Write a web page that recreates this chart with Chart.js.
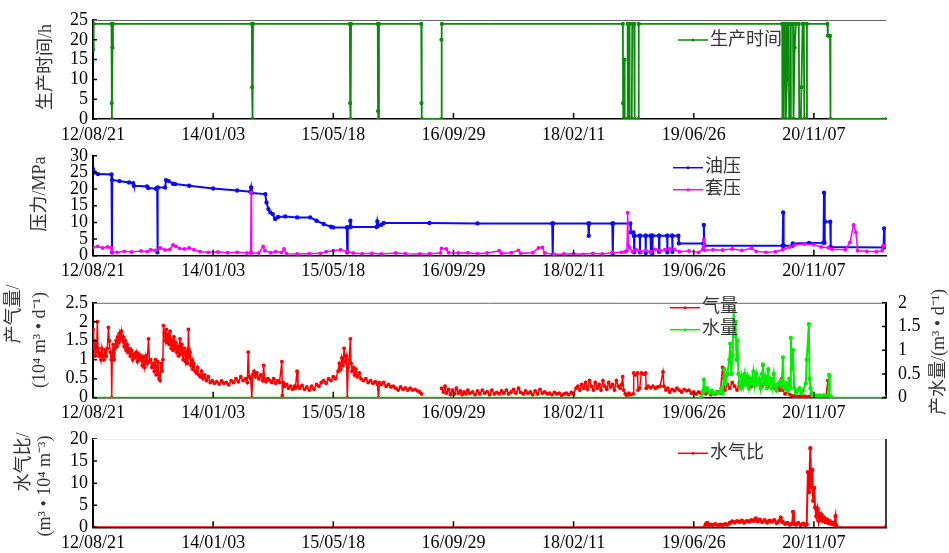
<!DOCTYPE html>
<html>
<head>
<meta charset="utf-8">
<script src="https://cdn.jsdelivr.net/npm/chart.js@4.4.0/dist/chart.umd.min.js"></script>
<style>
  html, body { margin: 0; padding: 0; background: #fff; }
  #wrap { position: relative; width: 949px; height: 553px; overflow: hidden; }
  #wrap canvas { position: absolute; left: 0; }
</style>
</head>
<body>
<div id="wrap">
  <canvas id="hours" width="949" height="150" style="top:0"></canvas>
  <canvas id="pressure" width="949" height="150" style="top:140px"></canvas>
  <canvas id="rates" width="949" height="150" style="top:280px"></canvas>
  <canvas id="ratio" width="949" height="133" style="top:420px"></canvas>
</div>
<script>
// x values are days counted from 2012-08-21
const tickDays = [0, 500, 1000, 1500, 2000, 2500, 3000];
const tickLabels = ['12/08/21', '14/01/03', '15/05/18', '16/09/29', '18/02/11', '19/06/26', '20/11/07'];

const prodHours = [
  [0,17.5],[3,24],[77,24],[78,4],[79,0],[81,18],[83,24],
  [661,24],[662,8],[664,0],[666,24],
  [1069,24],[1070,4],[1072,0],[1074,24],
  [1185,24],[1186,2],[1188,0],[1190,24],
  [1366,24],[1367,4],[1369,0],[1449,0],[1450,20],[1452,24],
  [2205,24],[2206,4],[2207,0],[2211,0],[2212,15],[2213,0],[2223,0],[2225,24],[2231,24],[2233,0],
  [2242,0],[2244,24],[2252,24],[2254,0],[2269,0],[2271,24],
  [2868,24],[2869,0],[2874,0],[2876,24],[2881,24],[2883,0],[2888,10],[2890,24],[2895,24],[2897,0],
  [2902,0],[2904,24],[2913,24],[2915,0],[2920,18],[2925,24],[2937,24],[2939,0],[2946,0],[2948,8],
  [2953,24],[2958,24],[2960,0],[2969,0],[2971,24],
  [3056,24],[3058,21],[3067,21],[3069,0],[3300,0]
];

const oilPressure = [
  [0,26],[8,25],[21,24.5],[77,24.4],[79,1],[80,22.7],[110,22.4],[150,22],[167,21.8],[170,21],
  [225,20.8],[230,20.3],[262,20.1],[267,20.2],[268,1],[270,20.5],[300,20.5],[304,22.7],[315,22.4],
  [333,21.6],[342,21.5],[400,21],[500,20.2],[600,19.6],[655,19.2],[658,20.5],[661,18.8],[717,18.5],
  [722,16],[730,14],[738,13],[748,12.5],[758,11],[770,11.6],[800,11.8],[850,11.5],[904,11.5],
  [930,10.5],[960,9.5],[990,8.7],[1000,8.5],[1056,8.5],[1058,1],[1060,8.5],[1069,8.6],[1071,10.5],
  [1073,8.6],[1180,8.6],[1183,10.3],[1186,9],[1200,9.3],[1210,9.8],[1400,9.8],[1600,9.7],[1911,9.7],
  [1913,0.2],[1915,9.7],[2061,9.7],[2063,6],[2065,9.7],[2161,9.7],[2163,0.3],[2165,9.7],[2236,9.7],
  [2238,7],[2249,7],[2251,6],[2252,1],[2253,6],[2275,6],[2276,1],[2277,6],[2299,6],[2300,0.8],
  [2301,6],[2320,6],[2321,1],[2322,6],[2327,6],[2328,0.8],[2329,6],[2355,6],[2356,1.2],[2357,6],
  [2389,6],[2390,1],[2391,6],[2410,6],[2411,1.2],[2412,6],[2436,6],[2438,3.7],[2540,3.7],[2542,9.2],
  [2544,3.0],[2870,3.0],[2872,13],[2874,3.0],[2910,3.0],[2912,3.7],[2980,3.8],[3040,3.9],[3042,18.9],
  [3044,3.9],[3046,10.2],[3068,10.2],[3070,2.6],[3290,2.5],[3292,8.2],[3294,2.6]
];

const casingPressure = [
  [0,2.5],[20,2.8],[40,2.3],[60,2.6],[75,2.4],[79,1.2],[100,1.0],[130,1.3],[160,1.1],[200,1.4],
  [225,1.2],[240,1.8],[260,1.6],[280,2.3],[300,1.7],[320,1.9],[333,3.2],[345,2.8],[360,2.2],[380,2.0],
  [400,2.3],[420,1.8],[446,1.2],[480,1.0],[520,1.1],[560,0.9],[600,1.0],[640,0.8],[656,0.9],[658,19],
  [660,0.8],[690,0.8],[708,2.8],[715,1.5],[740,0.9],[760,1.2],[785,1.0],[795,2.0],[805,0.6],[850,0.5],
  [900,0.6],[946,0.7],[970,1.2],[1000,1.5],[1030,1.8],[1060,1.2],[1083,0.8],[1120,0.6],[1160,0.7],
  [1200,0.5],[1260,0.8],[1300,0.6],[1360,0.5],[1400,0.6],[1446,0.8],[1450,2.2],[1470,2.0],[1480,0.9],
  [1520,0.8],[1560,0.9],[1600,0.6],[1640,0.8],[1690,1.5],[1700,0.7],[1740,0.9],[1770,1.6],[1780,0.7],
  [1830,0.9],[1854,2.3],[1870,2.5],[1880,0.8],[1920,0.4],[1960,0.5],[2000,0.6],[2040,0.4],[2080,0.7],
  [2120,0.5],[2160,0.9],[2200,1.0],[2215,1.2],[2222,1.5],[2225,12.9],[2228,3],[2233,2.5],[2245,1.2],
  [2260,1.8],[2280,1.2],[2300,1.6],[2320,1.1],[2340,1.9],[2360,1.4],[2380,1.8],[2400,2.0],[2420,1.9],
  [2440,1.2],[2480,1.4],[2520,1.0],[2538,2],[2542,4.8],[2546,1.6],[2580,1.8],[2620,1.7],[2660,2.0],
  [2700,1.6],[2740,2.2],[2760,1.3],[2800,1.0],[2840,1.2],[2870,1.8],[2900,2.6],[2920,3.2],[2960,3.5],
  [3000,3.3],[3030,2.6],[3060,2.4],[3075,1.9],[3130,1.8],[3150,4],[3165,9.2],[3175,7],[3182,1.5],
  [3220,1.3],[3260,1.2],[3284,1.5],[3288,3],[3296,3]
];

// gas rate, 10^4 m3/d (null = no record)
const gasRate = [
  [0,1.8],[3,1.3],[6,1.5],[9,1.1],[12,1.4],[15,1.2],[18,2.0],[21,1.3],[25,1.1],[29,1.2],[33,1.0],
  [37,1.3],[41,1.1],[45,1.0],[50,1.25],[55,1.1],[60,1.3],[64,1.85],[68,1.5],[72,1.2],[76,1.0],[78,0],
  [80,1.1],[84,1.4],[88,1.0],[92,1.3],[96,1.5],[99,1.35],[103,1.6],[107,1.45],[111,1.7],[115,1.55],
  [119,1.75],[123,1.5],[126,1.6],[130,1.35],[134,1.5],[138,1.25],[142,1.4],[146,1.2],[150,1.3],
  [155,1.1],[160,1.25],[165,1.0],[170,1.15],[175,1.05],[180,1.2],[185,0.95],[190,1.15],[195,1.0],
  [200,1.1],[205,0.85],[210,1.05],[215,0.8],[220,1.1],[225,0.9],[231,1.55],[235,0.95],[240,1.0],
  [245,0.8],[251,0.9],[255,0.7],[260,1.0],[265,0.6],[270,0.95],[275,0.5],[279,0.45],[283,0.9],
  [287,0.7],[291,1.0],[293,1.9],[297,1.7],[301,1.5],[305,1.8],[309,1.45],[313,1.65],[317,1.4],
  [321,1.75],[325,1.3],[329,1.5],[333,1.25],[337,1.6],[341,1.3],[345,1.45],[349,1.2],[353,1.35],
  [357,1.1],[362,1.55],[366,1.15],[370,1.4],[375,1.0],[380,1.3],[385,0.95],[390,1.2],[394,0.9],
  [397,1.8],[401,1.1],[404,1.2],[408,0.85],[412,1.0],[416,0.75],[420,0.9],[425,0.7],[430,0.65],
  [435,0.8],[440,0.6],[446,0.55],[452,0.7],[458,0.5],[465,0.6],[472,0.45],[480,0.55],[488,0.4],
  [496,0.45],[505,0.38],[515,0.42],[525,0.36],[535,0.44],[545,0.38],[555,0.4],[565,0.34],[575,0.45],
  [585,0.4],[595,0.5],[605,0.42],[615,0.55],[625,0.45],[635,0.5],[642,0.4],[646,1.2],[650,0.55],
  [656,0.5],[661,0],[664,0.6],[670,0.7],[676,0.55],[682,0.65],[690,0.5],[698,0.6],[706,0.45],
  [710,0.85],[714,0.5],[720,0.42],[728,0.5],[736,0.45],[744,0.4],[752,0.5],[760,0.38],[768,0.45],
  [776,0.4],[786,0.95],[788,0.05],[792,0.4],[798,0.3],[806,0.35],[814,0.25],[822,0.3],[830,0.22],
  [838,0.3],[842,0.25],[849,0.7],[853,0.3],[860,0.25],[870,0.32],[880,0.22],[890,0.28],[900,0.2],
  [910,0.3],[920,0.22],[930,0.35],[940,0.3],[950,0.4],[960,0.45],[970,0.38],[980,0.5],[990,0.45],
  [1000,0.55],[1010,0.5],[1020,0.7],[1025,0.9],[1030,0.75],[1035,1.05],[1040,0.85],[1045,1.3],
  [1050,0.95],[1055,1.1],[1058,0],[1062,0.8],[1066,1.0],[1071,1.55],[1074,0.9],[1078,0.7],[1083,0.8],
  [1088,0.6],[1094,0.75],[1100,0.55],[1108,0.65],[1115,0.5],[1125,0.45],[1135,0.5],[1145,0.4],
  [1155,0.45],[1165,0.38],[1175,0.42],[1183,0.36],[1188,0],[1192,0.4],[1200,0.35],[1210,0.4],
  [1220,0.3],[1230,0.35],[1240,0.28],[1250,0.3],[1260,0.25],[1270,0.2],[1280,0.28],[1290,0.22],
  [1300,0.26],[1310,0.2],[1320,0.25],[1330,0.2],[1340,0.22],[1350,0.18],[1360,0.15],[1367,0.1],
  [1410,null],
  [1451,0.25],[1458,0.15],[1465,0.3],[1472,0.12],[1480,0.22],[1488,0.08],[1496,0.2],[1504,0.1],
  [1512,0.25],[1520,0.12],[1528,0.18],[1536,0.08],[1544,0.15],[1552,0.1],[1560,0.2],[1568,0.12],
  [1580,0.15],[1590,0.08],[1600,0.18],[1610,0.1],[1620,0.2],[1630,0.12],[1640,0.16],[1650,0.08],
  [1660,0.2],[1670,0.1],[1680,0.14],[1690,0.1],[1700,0.18],[1710,0.12],[1720,0.2],[1730,0.1],
  [1740,0.15],[1750,0.22],[1760,0.12],[1771,0.25],[1780,0.14],[1790,0.1],[1800,0.18],[1810,0.12],
  [1820,0.15],[1830,0.08],[1840,0.18],[1850,0.1],[1860,0.22],[1870,0.12],[1880,0.15],[1890,0.1],
  [1900,0.12],[1910,0.08],[1920,0.14],[1930,0.1],[1940,0.12],[1950,0.06],[1960,0.1],[1970,0.12],
  [1980,0.08],[1990,0.14],[2000,0.1],[2010,0.25],[2018,0.3],[2026,0.2],[2034,0.35],[2042,0.25],
  [2050,0.4],[2058,0.22],[2066,0.45],[2074,0.3],[2082,0.2],[2090,0.4],[2098,0.25],[2106,0.35],
  [2114,0.2],[2122,0.45],[2130,0.3],[2138,0.22],[2146,0.4],[2154,0.28],[2162,0.35],[2170,0.2],
  [2178,0.45],[2186,0.3],[2194,0.25],[2200,0.35],[2204,0.55],[2208,0.2],[2215,0.1],[2222,0.05],
  [2230,0.12],[2236,0.08],[2248,0.1],[2250,0.65],[2258,0.6],[2266,0.65],[2268,0.2],[2275,0.25],
  [2282,0.65],[2292,0.62],[2300,0.65],[2302,0.25],[2310,0.3],[2320,0.26],[2330,0.3],[2340,0.25],
  [2350,0.28],[2360,0.3],[2372,0.68],[2376,0.3],[2384,0.2],[2392,0.25],[2400,0.15],[2410,0.22],
  [2420,0.18],[2430,0.25],[2440,0.2],[2450,0.15],[2460,0.22],[2470,0.18],[2480,0.2],[2490,0.12],
  [2500,0.15],[2510,0.1],[2520,0.15],[2530,0.12],[2540,0.2],[2550,0.1],[2560,0.15],[2570,0.08],
  [2580,0.12],[2590,0.1],[2600,0.15],[2610,0.12],[2620,0.8],[2625,0.5],[2630,0.2],[2640,0.35],
  [2650,0.25],[2660,0.4],[2670,0.3],[2680,0.2],[2690,0.4],[2700,0.3],[2710,0.45],[2720,0.35],
  [2730,0.5],[2740,0.3],[2750,0.45],[2760,0.35],[2770,0.4],[2780,0.3],[2788,0.85],[2792,0.35],
  [2800,0.45],[2810,0.3],[2820,0.4],[2830,0.35],[2840,0.25],[2850,0.3],[2858,0.2],[2866,0.5],
  [2870,0.2],[2880,0.1],[2890,0.15],[2900,0.08],[2910,0.05],[2920,0.03],[2930,0.02],[2940,0.03],
  [2950,0.02],[2960,0.04],[2970,0.02],[2980,0.03],[2990,0.02],[3000,0.03],[3010,0.02],[3020,0.03],
  [3030,0.02],[3040,0.03],[3050,0.02],[3058,0.45],[3062,0.02],[3070,0],[3300,0]
];

// water rate, m3/d
const waterRate = [
  [0,0],[2530,0],[2538,0.1],[2542,0.38],[2546,0.15],[2555,0.2],[2565,0.1],[2575,0.15],[2585,0.08],
  [2595,0.12],[2605,0.1],[2615,0.2],[2620,0.1],[2628,0.6],[2633,0.3],[2640,0.5],[2648,0.8],
  [2652,1.14],[2656,0.5],[2662,0.9],[2666,1.85],[2670,1.3],[2674,1.6],[2678,0.8],[2682,1.2],
  [2686,0.5],[2690,0.3],[2696,0.2],[2700,0.45],[2706,0.25],[2712,0.5],[2718,0.3],[2724,0.45],
  [2730,0.2],[2736,0.4],[2742,0.3],[2748,0.55],[2754,0.25],[2760,0.5],[2766,0.3],[2772,0.4],
  [2778,0.2],[2784,0.5],[2788,0.7],[2792,0.3],[2798,0.45],[2804,0.2],[2810,0.6],[2814,0.3],
  [2820,0.4],[2826,0.2],[2833,0.5],[2838,0.25],[2845,0.15],[2852,0.3],[2860,0.35],[2866,0.25],
  [2871,0.85],[2874,0.3],[2880,0.2],[2886,0.3],[2892,0.15],[2898,0.4],[2901,0.2],[2904,1.26],
  [2908,0.6],[2913,1.0],[2918,0.2],[2925,0.1],[2932,0.15],[2940,0.2],[2948,0.1],[2954,0.15],
  [2966,0.3],[2970,0.8],[2979,1.55],[2982,0.4],[2986,0.2],[2990,0.1],[2995,0.05],[3005,0.05],
  [3015,0.04],[3025,0.05],[3040,0.05],[3060,0.04],[3063,0.48],[3066,0.05],[3075,0],[3300,0]
];

// water-gas ratio, m3/10^4 m3
const wgRatio = [
  [0,0],[2545,0],[2550,0.7],[2556,1.0],[2562,0.5],[2570,0.6],[2580,0.5],[2590,0.7],[2600,0.5],
  [2610,0.6],[2620,0.55],[2630,0.7],[2640,0.6],[2650,1.0],[2660,1.3],[2670,1.1],[2680,1.4],
  [2690,1.2],[2700,1.5],[2710,1.1],[2720,1.4],[2730,1.3],[2740,1.6],[2750,1.5],[2758,2.0],
  [2766,1.4],[2775,1.7],[2785,1.2],[2795,1.6],[2805,1.1],[2815,1.5],[2825,1.3],[2835,1.6],
  [2845,1.0],[2855,1.4],[2862,2.2],[2870,1.2],[2880,0.8],[2890,1.0],[2900,0.6],[2910,0.9],
  [2913,3.5],[2917,0.8],[2925,0.6],[2935,1.0],[2945,0.5],[2955,0.8],[2965,0.5],[2970,0.7],
  [2975,12.5],[2980,8],[2985,17.9],[2989,9],[2993,13],[2997,6],[3001,8.9],[3005,4.5],[3010,2.5],
  [3015,4.2],[3020,1.5],[3024,3],[3028,2],[3032,2.8],[3036,1.5],[3042,2.2],[3048,1.2],[3054,1.8],
  [3060,1.0],[3066,1.4],[3072,0.8],[3078,1.0],[3084,0.6],[3090,2.5],[3092,0.5],[3094,0],[3300,0]
];

Chart.defaults.font.family = "'Liberation Serif', 'Noto Sans CJK SC', serif";
Chart.defaults.font.size = 18;
Chart.defaults.color = '#000';
Chart.defaults.animation = false;

const cjkFont = "18px 'Liberation Serif', 'Noto Sans CJK SC', serif";

// axis frame extras: inward ticks, extra border lines, rotated titles, legend
const decor = {
  id: 'decor',
  afterDraw(chart, args, o) {
    const { ctx, chartArea: a, scales } = chart;
    ctx.save();
    ctx.strokeStyle = '#000';
    ctx.lineWidth = 1.5;
    ctx.beginPath();
    tickDays.forEach(v => {
      const px = scales.x.getPixelForValue(v);
      ctx.moveTo(px, a.bottom);
      ctx.lineTo(px, a.bottom - 6);
    });
    Object.values(scales).forEach(s => {
      if (s.axis !== 'y') return;
      const left = s.position === 'left';
      const edge = left ? a.left : a.right;
      s.ticks.forEach(t => {
        const py = s.getPixelForValue(t.value);
        ctx.moveTo(edge, py);
        ctx.lineTo(edge + (left ? 4 : -4), py);
      });
    });
    ctx.stroke();

    if (o.topLine) {
      ctx.strokeStyle = o.topLine;
      ctx.lineWidth = 1;
      ctx.beginPath();
      ctx.moveTo(a.left, a.top + 0.5);
      ctx.lineTo(a.right, a.top + 0.5);
      ctx.stroke();
    }
    if (o.rightLine) {
      ctx.strokeStyle = '#000';
      ctx.lineWidth = 1.5;
      ctx.beginPath();
      ctx.moveTo(a.right, a.top);
      ctx.lineTo(a.right, a.bottom);
      ctx.stroke();
    }

    ctx.font = cjkFont;
    ctx.fillStyle = '#333';
    ctx.textAlign = 'center';
    ctx.textBaseline = 'middle';
    (o.titles || []).forEach(t => {
      ctx.save();
      ctx.translate(t.x, t.y);
      ctx.rotate(-Math.PI / 2);
      ctx.fillText(t.text, 0, 0);
      ctx.restore();
    });

    const lg = o.legend;
    if (lg) {
      ctx.textAlign = 'left';
      chart.data.datasets.forEach((d, i) => {
        const y = lg.y + i * 22;
        ctx.strokeStyle = d.borderColor;
        ctx.lineWidth = 1.5;
        ctx.beginPath();
        ctx.moveTo(lg.x, y);
        ctx.lineTo(lg.x + 30, y);
        ctx.stroke();
        ctx.fillStyle = d.borderColor;
        ctx.beginPath();
        ctx.arc(lg.x + 15, y, 1.5, 0, Math.PI * 2);
        ctx.fill();
        ctx.fillStyle = '#333';
        ctx.fillText(d.label, lg.x + 32, y);
      });
    }
    ctx.restore();
  }
};

function xAxis(height) {
  return {
    type: 'linear', min: 0, max: 3300,
    afterBuildTicks: s => { s.ticks = tickDays.map(v => ({ value: v })); },
    afterFit: s => { s.height = height; },
    grid: { display: false, drawTicks: false },
    border: { color: '#000', width: 1.5 },
    ticks: { padding: 5, autoSkip: false, maxRotation: 0, callback: (v, i) => tickLabels[i] }
  };
}

function yAxis(position, max, step, width) {
  return {
    position, min: 0, max,
    afterFit: s => { s.width = width; },
    grid: { display: false, drawTicks: false },
    border: { color: '#000', width: 2 },
    ticks: {
      stepSize: step, autoSkip: false,
      padding: position === 'left' ? 5 : 12,
      callback: v => String(+v.toFixed(2))
    }
  };
}

function series(label, pts, color, extra) {
  return Object.assign({
    label,
    data: pts.map(p => ({ x: p[0], y: p[1] })),
    borderColor: color,
    backgroundColor: color,
    borderWidth: 1.5,
    pointRadius: 1.2,
    pointHoverRadius: 0,
    tension: 0,
    spanGaps: false
  }, extra);
}

function makeChart(id, datasets, scales, padding, decorOpts) {
  return new Chart(document.getElementById(id), {
    type: 'line',
    data: { datasets },
    options: {
      responsive: false,
      events: [],
      layout: { padding },
      scales,
      plugins: { legend: { display: false }, tooltip: { enabled: false }, decor: decorOpts }
    },
    plugins: [decor]
  });
}

makeChart('hours',
  [series('生产时间', prodHours, '#0a8a0a', { borderWidth: 1.8 })],
  { x: xAxis(31), y: yAxis('left', 25, 5, 93) },
  { top: 20, right: 63, left: 0, bottom: 0 },
  { topLine: '#666', titles: [{ text: '生产时间/h', x: 46, y: 67 }], legend: { x: 678, y: 40 } });

makeChart('pressure',
  [series('油压', oilPressure, '#0a0af5', { order: 1, borderWidth: 2 }),
   series('套压', casingPressure, '#ff00ff', { order: 0 })],
  { x: xAxis(34.3), y: yAxis('left', 30, 5, 93) },
  { top: 15.7, right: 63, left: 0, bottom: 0 },
  { titles: [{ text: '压力/MPa', x: 40, y: 54 }], legend: { x: 673, y: 27.7 } });

makeChart('rates',
  [series('气量', gasRate, '#ff0000', { yAxisID: 'y', order: 1 }),
   series('水量', waterRate, '#00ee00', { yAxisID: 'y2', order: 0, borderWidth: 2 })],
  { x: xAxis(32.3), y: yAxis('left', 2.5, 0.5, 93), y2: yAxis('right', 2, 0.5, 63) },
  { top: 15.7, right: 0, left: 0, bottom: 0 },
  { topLine: '#666',
    titles: [{ text: '产气量/', x: 14, y: 34 },
             { text: '(10⁴ m³ • d⁻¹)', x: 40, y: 60 },
             { text: '产水量/(m³ • d⁻¹)', x: 939, y: 72 }],
    legend: { x: 670, y: 27.7 } });

makeChart('ratio',
  [series('水气比', wgRatio, '#ff0000', { borderWidth: 2 })],
  { x: xAxis(25.7), y: yAxis('left', 20, 5, 93) },
  { top: 19, right: 63, left: 0, bottom: 0 },
  { topLine: '#eee', rightLine: true,
    titles: [{ text: '水气比/', x: 24, y: 42 },
             { text: '(m³ • 10⁴ m⁻³)', x: 45, y: 66 }],
    legend: { x: 678, y: 33.3 } });
</script>
</body>
</html>
